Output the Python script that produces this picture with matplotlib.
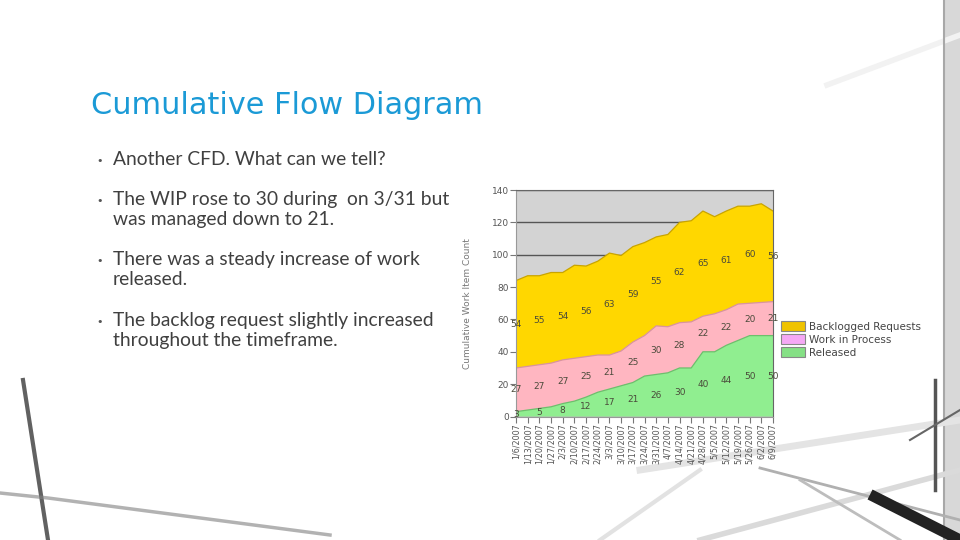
import matplotlib.pyplot as plt
from matplotlib.patches import Patch, Rectangle

# Data (weekly snapshots)
dates = ['1/6/2007', '1/13/2007', '1/20/2007', '1/27/2007', '2/3/2007', '2/10/2007',
         '2/17/2007', '2/24/2007', '3/3/2007', '3/10/2007', '3/17/2007', '3/24/2007',
         '3/31/2007', '4/7/2007', '4/14/2007', '4/21/2007', '4/28/2007', '5/5/2007',
         '5/12/2007', '5/19/2007', '5/26/2007', '6/2/2007', '6/9/2007']
released = [3, 4, 5, 6, 8, 9.5, 12, 15, 17, 19, 21, 25, 26, 27, 30, 30, 40, 40, 44, 47, 50, 50, 50]
wip = [27, 27, 27, 27, 27, 26.5, 25, 23, 21, 21.5, 25, 25, 30, 28.5, 28, 28.5, 22, 23.5, 22, 22.5, 20, 20.5, 21]
backlog = [54, 56, 55, 56, 54, 57.5, 56, 58, 63, 59, 59, 57.5, 55, 57, 62, 62.5, 65, 60, 61, 60.5, 60, 61, 56]
series_names = ['Backlogged Requests', 'Work in Process', 'Released']

title = 'Cumulative Flow Diagram'
bullets = [['Another CFD. What can we tell?'],
           ['The WIP rose to 30 during  on 3/31 but', 'was managed down to 21.'],
           ['There was a steady increase of work', 'released.'],
           ['The backlog request slightly increased', 'throughout the timeframe.']]

W, H = 960, 540
fig = plt.figure(figsize=(9.6, 5.4), dpi=100)
fig.patch.set_facecolor('white')

# slide background (pixel coordinates)
bg = fig.add_axes([0, 0, 1, 1])
bg.set_xlim(0, W)
bg.set_ylim(H, 0)
bg.axis('off')

# faint decorative lines of the slide photo
bg.plot([23, 48], [380, 540], color='#3a3a3a', lw=3, alpha=0.8)
bg.plot([0, 48, 330], [493, 498, 535], color='#808080', lw=2.5, alpha=0.6)
bg.plot([827, 960], [85, 35], color='#f2f2f2', lw=4)
bg.add_patch(Rectangle((945, 0), 15, 540, color='#d8d8d8', lw=0))
bg.plot([944, 944], [0, 540], color='#a8a8a8', lw=1.5)
bg.plot([640, 960], [470, 420], color='#e4e4e4', lw=5)
bg.plot([700, 960], [540, 470], color='#dadada', lw=4)
bg.plot([760, 960], [468, 520], color='#b0b0b0', lw=2)
bg.plot([800, 900], [480, 540], color='#bdbdbd', lw=2)
bg.plot([875, 960], [497, 540], color='#222222', lw=8)
bg.plot([935, 935], [380, 490], color='#555555', lw=2.5)
bg.plot([910, 960], [440, 410], color='#666666', lw=1.5)
bg.plot([600, 700], [540, 470], color='#e2e2e2', lw=3)

# white chart image box
bg.add_patch(Rectangle((465, 180), 468, 288, color='white', lw=0))

bg.text(91, 114, title, fontsize=21.8, color='#1b9ad6', family='DejaVu Sans', va='baseline')
line_y = [[165], [205, 225], [265, 285], [326, 346]]
for lines, ys in zip(bullets, line_y):
    bg.text(100, ys[0] - 4, '•', fontsize=8, color='#555555', va='center', ha='center')
    for txt, y in zip(lines, ys):
        bg.text(113, y, txt, fontsize=13.9, color='#404040', family='Lato', va='baseline')

# chart
ax = fig.add_axes([516 / W, 1 - 416.5 / H, (773 - 516) / W, (416.5 - 190) / H])
x = list(range(len(dates)))
area_colors = ['#90ee90', '#ffb6c1', '#ffd700']
edge_colors = ['#6cbf6c', '#d9939f', '#c9a400']
ax.set_facecolor('#d3d3d3')
ax.stackplot(x, released, wip, backlog, colors=area_colors, lw=0)
bands = []
acc = [0] * len(x)
for vals, ec in zip([released, wip, backlog], edge_colors):
    low = acc[:]
    acc = [a + v for a, v in zip(acc, vals)]
    ax.plot(x, acc, color=ec, lw=0.9)
    bands.append((low, acc[:], vals))

# data labels on every other week, centred in each band
for low, high, vals in bands:
    for i in range(0, len(x), 2):
        ax.text(i, (low[i] + high[i]) / 2, f'{vals[i]:g}', fontsize=6.5,
                color='#4a4a3a', ha='center', va='center', clip_on=False)

ax.set_xlim(0, len(x) - 1)
ax.set_ylim(0, 140)
ax.set_yticks(range(0, 141, 20))
ax.set_xticks(x)
ax.set_xticklabels(dates, rotation=90)
ax.tick_params(axis='both', labelsize=6.5, labelcolor='#555555', color='#777777',
               length=4, width=0.8, pad=1)
ax.tick_params(axis='x', labelsize=5.8)
ax.yaxis.grid(True, color='#555555', lw=1)
ax.set_axisbelow(True)
for side in ['top', 'right']:
    ax.spines[side].set_color('#666666')
for side in ['left', 'bottom']:
    ax.spines[side].set_color('#999999')
ax.set_ylabel('Cumulative Work Item Count', fontsize=6.5, color='#777777', labelpad=14)

handles = [Patch(facecolor='#efc300', edgecolor='#888888', lw=0.8),
           Patch(facecolor='#f5a8f5', edgecolor='#888888', lw=0.8),
           Patch(facecolor='#85e085', edgecolor='#888888', lw=0.8)]
fig.legend(handles, series_names, loc='upper left', bbox_to_anchor=(781 / W, 1 - 321 / H),
           frameon=False, fontsize=7.5, handlelength=2.3, handleheight=1.1,
           labelspacing=0.25, handletextpad=0.4, borderpad=0, borderaxespad=0,
           labelcolor='#444444')

fig.savefig('out.png', dpi=100)
